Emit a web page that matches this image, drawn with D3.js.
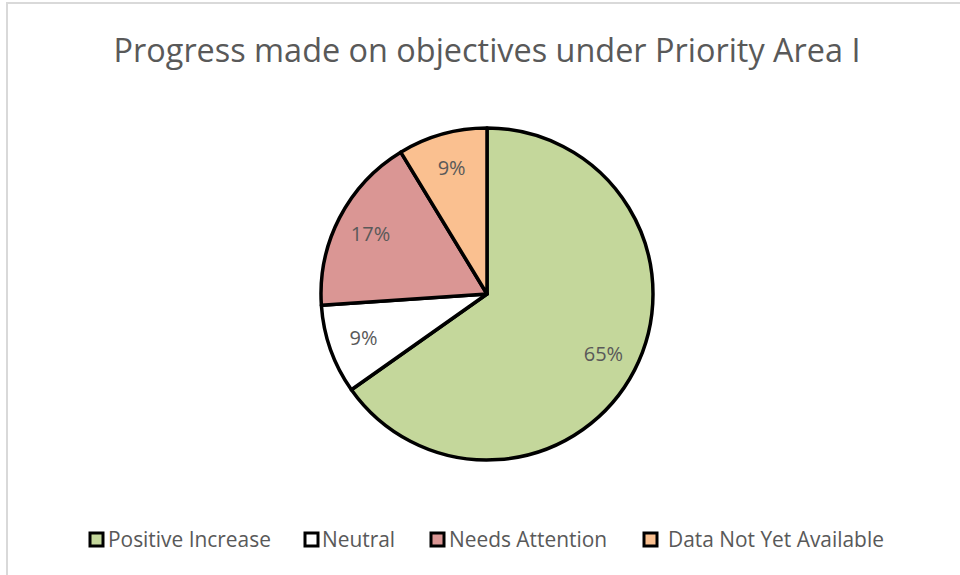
<!DOCTYPE html>
<html>
<head>
<meta charset="utf-8">
<script src="https://cdn.jsdelivr.net/npm/d3@7"></script>
<style>
  body { margin: 0; background: #fff; }
  text { font-family: "Open Sans", "Noto Sans", sans-serif; fill: #595959; }
</style>
</head>
<body>
<script>
// values (counts -> 65%, 9%, 17%, 9%)
var categories = ["Positive Increase", "Neutral", "Needs Attention", "Data Not Yet Available"];
var counts = [15, 2, 4, 2];
var colors = ["#C4D79B", "#FFFFFF", "#DA9694", "#FAC090"];
var title = "Progress made on objectives under Priority Area I";

var width = 960, height = 575;
var cx = 487, cy = 294, r = 166;

var svg = d3.select("body").append("svg")
  .attr("width", width)
  .attr("height", height);

// chart border (only top/left visible in the frame)
svg.append("rect")
  .attr("x", 7).attr("y", 3)
  .attr("width", 980).attr("height", 600)
  .attr("fill", "none")
  .attr("stroke", "#d9d9d9")
  .attr("stroke-width", 2);

// title, sized to the width it takes in the reference
var t = svg.append("text")
  .attr("x", 487).attr("y", 62)
  .attr("text-anchor", "middle")
  .attr("font-size", 30)
  .text(title);
var tw = t.node().getComputedTextLength();
t.attr("font-size", 30 * 747 / tw);

var total = d3.sum(counts);
var pie = d3.pie().sort(null).value(d => d);
var arc = d3.arc().innerRadius(0).outerRadius(r);
var labelArc = d3.arc().innerRadius(r * 0.58).outerRadius(r);

var g = svg.append("g").attr("transform", "translate(" + cx + "," + cy + ")");
var arcs = pie(counts);

g.selectAll("path")
  .data(arcs)
  .enter()
  .append("path")
  .attr("d", arc)
  .attr("fill", (d, i) => colors[i])
  .attr("stroke", "#000")
  .attr("stroke-width", 3.5)
  .attr("stroke-linejoin", "round");

g.selectAll(".lbl")
  .data(arcs)
  .enter()
  .append("text")
  .attr("class", "lbl")
  .attr("transform", d => "translate(" + labelArc.centroid(d) + ")")
  .attr("text-anchor", "middle")
  .attr("dy", "0.35em")
  .attr("font-size", 20)
  .text(d => Math.round(d.value / total * 100) + "%");

// legend
var legendX = [90, 305, 431, 644];
var textX = [108, 322, 449, 668];
var lg = svg.append("g");
lg.selectAll("rect")
  .data(categories)
  .enter()
  .append("rect")
  .attr("x", (d, i) => legendX[i])
  .attr("y", 533)
  .attr("width", 13)
  .attr("height", 13)
  .attr("fill", (d, i) => colors[i])
  .attr("stroke", "#000")
  .attr("stroke-width", 3);
var lt = lg.selectAll("text")
  .data(categories)
  .enter()
  .append("text")
  .attr("x", (d, i) => textX[i])
  .attr("y", 547)
  .attr("font-size", 19)
  .text(d => d);
var lw = lt.nodes()[0].getComputedTextLength();
lt.attr("font-size", 19 * 163 / lw);
</script>
</body>
</html>
